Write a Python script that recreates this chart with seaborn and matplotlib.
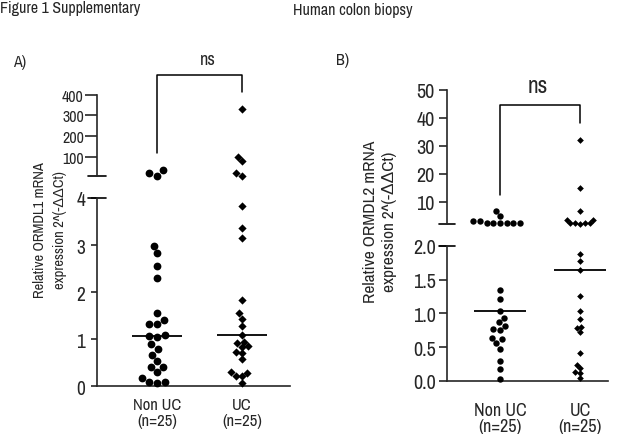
import numpy as np
import pandas as pd
import matplotlib
matplotlib.use("Agg")
import matplotlib.pyplot as plt
import seaborn as sns

# ---------------- data ----------------
categories = ["Non UC", "UC"]
tick_labels = ["Non UC\n(n=25)", "UC\n(n=25)"]

# Panel A: ORMDL1
a_nonuc = [22, 8, 35, 2.98, 2.83, 2.55, 2.30, 1.56, 1.40, 1.33, 1.32, 1.10, 1.06,
           1.04, 0.89, 0.79, 0.67, 0.54, 0.41, 0.41, 0.30, 0.17, 0.06, 0.10, 0.10]
a_uc = [329, 100, 77, 19, 8, 3.84, 3.36, 3.15, 1.84, 1.55, 1.44, 1.28, 1.10,
        0.95, 0.91, 0.85, 0.83, 0.73, 0.70, 0.57, 0.30, 0.28, 0.22, 0.21, 0.06]
a_upper_ticks = [100, 200, 300, 400]
a_lower_ticks = [0, 1, 2, 3, 4]

# Panel B: ORMDL2
b_nonuc = [6.8, 5.0, 3.0, 3.0, 2.6, 2.5, 2.5, 2.5, 2.5, 2.5,
           1.35, 1.21, 1.04, 0.93, 0.87, 0.82, 0.77, 0.75, 0.63, 0.62,
           0.56, 0.48, 0.30, 0.18, 0.03]
b_uc = [32.0, 14.8, 6.9, 3.6, 2.4, 2.4, 2.4, 2.4, 3.6, 2.1,
        1.87, 1.78, 1.64, 1.26, 1.04, 0.92, 0.80, 0.78, 0.73, 0.41,
        0.24, 0.19, 0.13, 0.12, 0.05]
b_upper_ticks = [10, 20, 30, 40, 50]
b_lower_ticks = [0.0, 0.5, 1.0, 1.5, 2.0]

sig_label = "ns"

# ---------------- style ----------------
sns.set_style("ticks")
plt.rcParams["font.family"] = ["Archivo Narrow", "Liberation Sans", "DejaVu Sans"]
plt.rcParams["axes.linewidth"] = 1.2

W, H = 638, 435
fig = plt.figure(figsize=(W / 100, H / 100), dpi=100)


def rect(left, right, top, bottom):
    return [left / W, 1 - bottom / H, (right - left) / W, (bottom - top) / H]


def swarm(ax, nonuc, uc, lo, hi, sizes):
    df_n = pd.DataFrame({"group": "Non UC", "value": [v for v in nonuc if lo <= v <= hi]})
    df_u = pd.DataFrame({"group": "UC", "value": [v for v in uc if lo <= v <= hi]})
    sns.swarmplot(data=df_n, x="group", y="value", order=categories, ax=ax,
                  color="black", marker="o", size=sizes[0], linewidth=0)
    sns.swarmplot(data=df_u, x="group", y="value", order=categories, ax=ax,
                  color="black", marker="D", size=sizes[1], linewidth=0)
    for c in ax.collections:
        c.set_clip_on(False)


def style_upper(ax, ylim, bounds, ticks, labsize, ticklen, xlim, pad):
    ax.set_ylim(*ylim)
    ax.set_xlim(*xlim)
    ax.spines["top"].set_visible(False)
    ax.spines["right"].set_visible(False)
    ax.spines["bottom"].set_visible(False)
    ax.spines["left"].set_bounds(*bounds)
    ax.set_yticks(ticks)
    ax.set_yticklabels([str(t) for t in ticks])
    ax.tick_params(axis="y", labelsize=labsize, length=ticklen, width=1.2, pad=pad)
    ax.set_xticks([])
    ax.set_xlabel("")
    ax.set_ylabel("")
    ax.patch.set_alpha(0)


def style_lower(ax, ylim, ticks, fmt, labsize, ticklen, xlim, xlabsize, xpad, pad):
    ax.set_ylim(*ylim)
    ax.set_xlim(*xlim)
    ax.spines["top"].set_visible(False)
    ax.spines["right"].set_visible(False)
    ax.set_yticks(ticks)
    ax.set_yticklabels([fmt.format(t) for t in ticks])
    ax.tick_params(axis="y", labelsize=labsize, length=ticklen, width=1.2, pad=pad)
    ax.set_xticks(range(len(categories)))
    ax.set_xticklabels(tick_labels, fontsize=xlabsize, linespacing=1.05)
    ax.tick_params(axis="x", length=0, pad=xpad)
    ax.set_xlabel("")
    ax.set_ylabel("")
    ax.patch.set_alpha(0)


def cap(ax, y, half):
    ax.plot([-half, half], [y, y], color="black", lw=1.2,
            transform=ax.get_yaxis_transform(), clip_on=False)


def medians(ax, nonuc, uc, halfw):
    for i, vals in enumerate([nonuc, uc]):
        m = float(np.median(vals))
        ax.hlines(m, i - halfw, i + halfw, color="black", lw=1.3)


# ---------------- panel A ----------------
xlimA = (-0.706, 1.565)
axA_up = fig.add_axes(rect(97, 290, 75, 177.3))
axA_lo = fig.add_axes(rect(97, 290, 199, 387.3))
swarm(axA_up, a_nonuc, a_uc, 4.5, 1000, (5.6, 4.2))
swarm(axA_lo, a_nonuc, a_uc, 0, 4.5, (5.6, 4.2))
style_upper(axA_up, (5, 500), (5, 400), a_upper_ticks, 11.5, 8.5, xlimA, 1)
style_lower(axA_lo, (0, 4), a_lower_ticks, "{:g}", 14, 4.5, xlimA, 12, 8, 4)
cap(axA_up, 5, 0.045)
cap(axA_lo, 4, 0.045)
medians(axA_lo, a_nonuc, a_uc, 0.29)
# significance bracket
axA_up.plot([0, 0, 1, 1], [116, 495, 495, 412], color="black", lw=1.1, clip_on=False)
axA_up.text(0.6, 572, sig_label, ha="center", va="center", fontsize=13)

# ---------------- panel B ----------------
xlimB = (-0.6625, 1.35)
axB_up = fig.add_axes(rect(447, 608, 90.7, 225.3))
axB_lo = fig.add_axes(rect(447, 608, 246.7, 382))
swarm(axB_up, b_nonuc, b_uc, 2.05, 1000, (4.6, 3.4))
swarm(axB_lo, b_nonuc, b_uc, 0, 2.05, (4.6, 3.4))
style_upper(axB_up, (2, 50), (2, 50), b_upper_ticks, 14.5, 6, xlimB, 3)
style_lower(axB_lo, (0, 2), b_lower_ticks, "{:.1f}", 14.5, 6, xlimB, 13, 15, 2)
cap(axB_up, 2, 0.05)
cap(axB_lo, 2, 0.05)
medians(axB_lo, b_nonuc, b_uc, 0.33)
axB_up.plot([0, 0, 1, 1], [12.4, 44.5, 44.5, 38.3], color="black", lw=1.1, clip_on=False)
axB_up.text(0.47, 51.6, sig_label, ha="center", va="center", fontsize=17)

# ---------------- text ----------------
fig.text(0.0, 1 - 9 / H, "Figure 1 Supplementary", ha="left", va="center", fontsize=11.5)
fig.text(353 / W, 1 - 10 / H, "Human colon biopsy", ha="center", va="center", fontsize=11.5)
fig.text(20 / W, 1 - 62 / H, "A)", ha="center", va="center", fontsize=11.5)
fig.text(343 / W, 1 - 61 / H, "B)", ha="center", va="center", fontsize=11.5)
fig.text(50 / W, 1 - 230 / H, "Relative ORMDL1 mRNA\nexpression 2^(-\u0394\u0394Ct)",
         rotation=90, ha="center", va="center", multialignment="center",
         fontsize=10.5, linespacing=1.55)
fig.text(380 / W, 1 - 222 / H, "Relative ORMDL2 mRNA\nexpression 2^(-\u0394\u0394Ct)",
         rotation=90, ha="center", va="center", multialignment="center",
         fontsize=12.5, linespacing=1.35)

fig.savefig("out.png", dpi=100)
